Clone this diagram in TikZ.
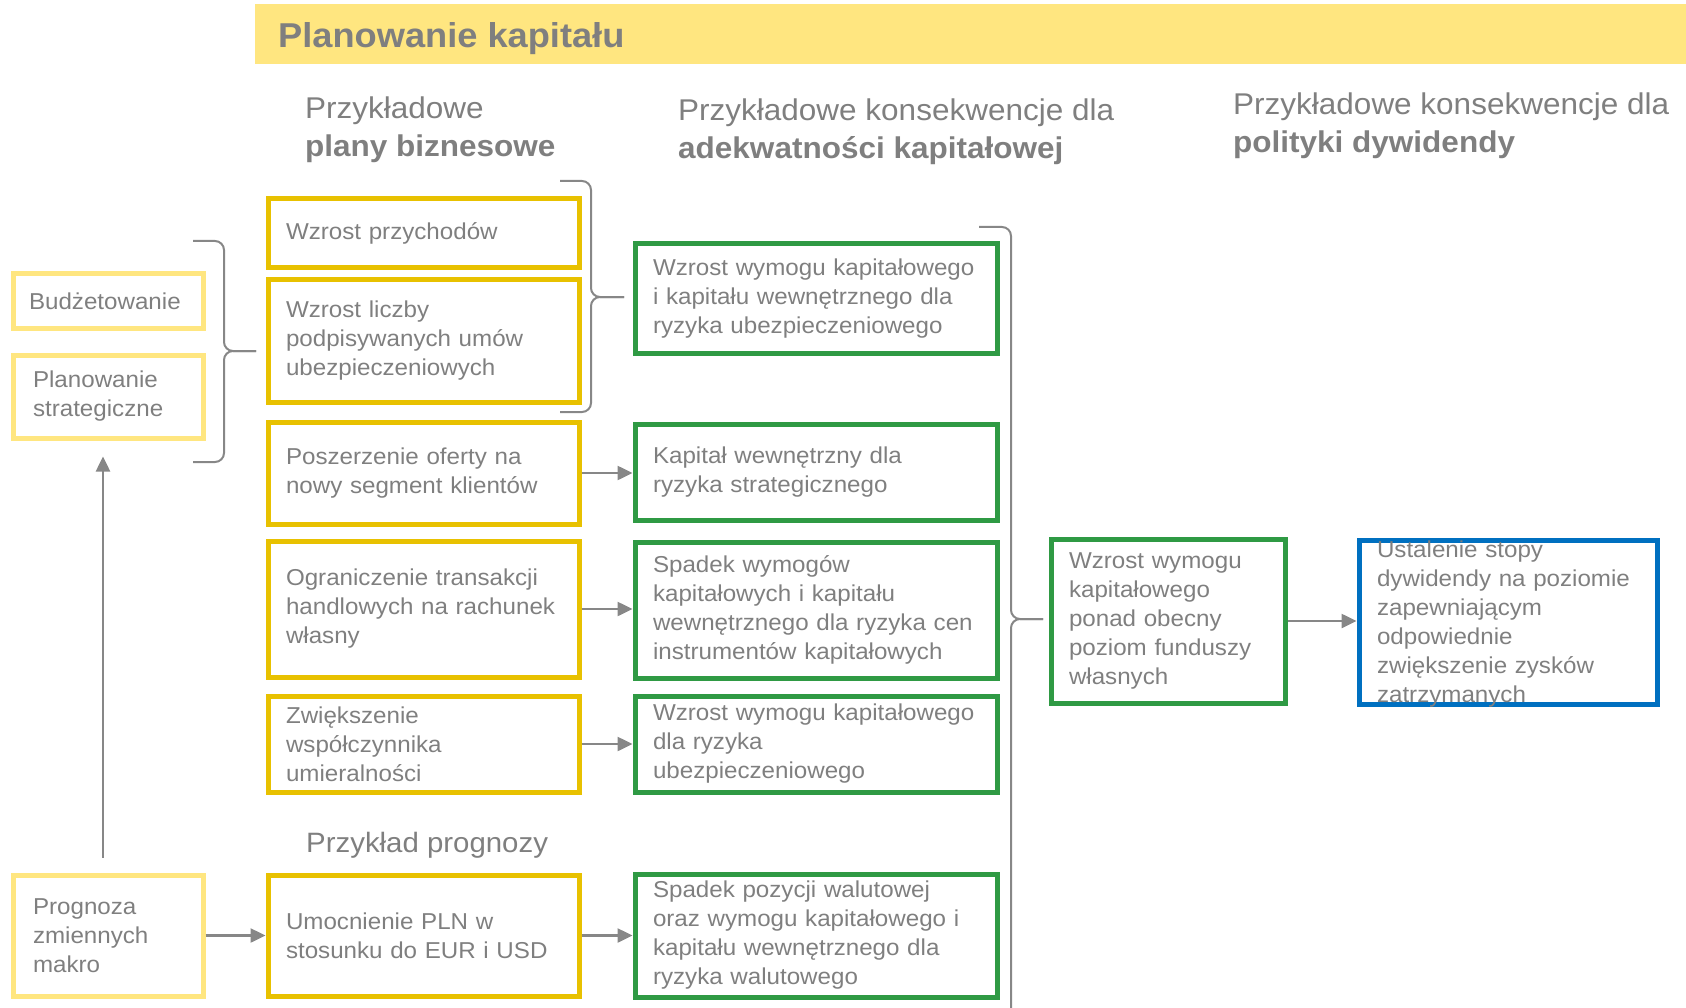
\documentclass[tikz,border=0pt]{standalone}
\usepackage{fontspec}
\setmainfont{Liberation Sans}[FakeStretch=1.05]
\usetikzlibrary{%
  arrows.meta,%
  calc%
}
\definecolor{szary}{HTML}{7F7F7F}
\definecolor{szarylinia}{HTML}{878787}
\definecolor{jasnozolty}{HTML}{FFE680}
\definecolor{zolty}{HTML}{E8C100}
\definecolor{zielony}{HTML}{2F9A44}
\definecolor{niebieski}{HTML}{0070C0}
\newcommand{\tekst}{\fontsize{23}{29}\selectfont}
\newcommand{\naglowek}{\fontsize{30}{38}\selectfont}
\tikzset{>={Triangle[length=15pt,width=14pt]}}
\tikzset{pole/.style = {line width=5pt, inner xsep=18pt, inner ysep=2pt,
        align=left, font=\tekst, text=szary},
    jasny/.style = {pole, draw=jasnozolty, inner xsep=16pt, text width=158pt},
    plan/.style = {pole, draw=zolty, text width=275pt},
    skutek/.style = {pole, draw=zielony, text width=326pt},
    glowny/.style = {pole, draw=zielony, text width=198pt},
    dywidenda/.style = {pole, draw=niebieski, minimum width=298pt},
    head/.style = {anchor=north west, inner sep=0pt, align=left,
        font=\naglowek, text=szary},
    strzalka/.style = {->, draw=szarylinia, line width=2.5pt},
    klamra/.style = {draw=szarylinia, line width=2pt, rounded corners=9pt}}

\begin{document}
\begin{tikzpicture}[x=1pt,y=-1pt]
    \useasboundingbox (0,0) rectangle (1686,1008);
    % naglowek
    \fill[jasnozolty] (255,4) rectangle (1686,64);
    \node[anchor=base west, inner sep=0pt, text=szary,
        font=\fontsize{34.5}{40}\selectfont\bfseries] (title) at (278,48) {Planowanie kapitału};
    \node[head] (h1) at (305,97) {Przykładowe\\\textbf{plany biznesowe}};
    \node[head] (h2) at (678,99) {Przykładowe konsekwencje dla\\\textbf{adekwatności kapitałowej}};
    \node[head] (h3) at (1233,93) {Przykładowe konsekwencje dla\\\textbf{polityki dywidendy}};
    % lewa kolumna
    \node[jasny, minimum height=54pt] (bud) at (108,301) {Budżetowanie};
    \node[jasny, inner xsep=20pt, text width=150pt, minimum height=83pt] (plan) at (108,396.5) {Planowanie\\strategiczne};
    \node[jasny, inner xsep=20pt, text width=150pt, minimum height=121pt] (prog) at (108,935.5) {Prognoza\\zmiennych\\makro};
    % plany biznesowe
    \node[plan, minimum height=69pt] (y1) at (423.5,233.5) {Wzrost przychodów};
    \node[plan, minimum height=122pt] (y2) at (423.5,341) {Wzrost liczby\\podpisywanych umów\\ubezpieczeniowych};
    \node[plan, minimum height=102pt] (y3) at (423.5,473) {Poszerzenie oferty na\\nowy segment klientów};
    \node[plan, minimum height=136pt] (y4) at (423.5,609) {Ograniczenie transakcji\\handlowych na rachunek\\własny};
    \node[plan, minimum height=96pt] (y5) at (423.5,744) {Zwiększenie\\współczynnika\\umieralności};
    \node[anchor=west, inner sep=0pt, text=szary,
        font=\fontsize{28}{33}\selectfont] (prz) at (306,845) {Przykład prognozy};
    \node[plan, minimum height=121pt] (y6) at (423.5,935.5) {Umocnienie PLN w\\stosunku do EUR i USD};
    % adekwatnosc kapitalowa
    \node[skutek, minimum height=109pt] (g1) at (816,298.5) {Wzrost wymogu kapitałowego\\i kapitału wewnętrznego dla\\ryzyka ubezpieczeniowego};
    \node[skutek, minimum height=96pt] (g2) at (816,472) {Kapitał wewnętrzny dla\\ryzyka strategicznego};
    \node[skutek, minimum height=136pt] (g3) at (816,610) {Spadek wymogów\\kapitałowych i kapitału\\wewnętrznego dla ryzyka cen\\instrumentów kapitałowych};
    \node[skutek, minimum height=96pt] (g4) at (816,744) {Wzrost wymogu kapitałowego\\dla ryzyka\\ubezpieczeniowego};
    \node[skutek, minimum height=123pt] (g5) at (816,935.5) {Spadek pozycji walutowej\\oraz wymogu kapitałowego i\\kapitału wewnętrznego dla\\ryzyka walutowego};
    % dywidenda
    \node[glowny, minimum height=164pt] (g6) at (1168,621) {Wzrost wymogu\\kapitałowego\\ponad obecny\\poziom funduszy\\własnych};
    \node[dywidenda, minimum height=164pt] (blue) at (1508,622) {};
    \node[align=left, font=\tekst, text=szary, text width=262pt,
        inner sep=0pt] (bluetxt) at ($(blue.center)+(0,2)$) {Ustalenie stopy\\dywidendy na poziomie\\zapewniającym\\odpowiednie\\zwiększenie zysków\\zatrzymanych};
    % klamry
    \draw[klamra] (193,241) -- (224,241) -- (224,351) -- (256,351);
    \draw[klamra] (193,462) -- (224,462) -- (224,351) -- (256,351);
    \draw[klamra] (560,181) -- (591,181) -- (591,297) -- (624,297);
    \draw[klamra] (560,412) -- (591,412) -- (591,297) -- (624,297);
    \draw[klamra] (979,227) -- (1011,227) -- (1011,619) -- (1043,619);
    \draw[klamra] (1011,1008) -- (1011,619) -- (1043,619);
    % strzalki
    \draw[strzalka, shorten <=15pt, shorten >=16pt] ($(prog.north)+(-5,0)$) -- ($(plan.south)+(-5,0)$);
    \draw[strzalka] (prog.east) -- (prog.east -| y6.west);
    \draw[strzalka] (y3.east) -- (y3.east -| g2.west);
    \draw[strzalka] (y4.east) -- (y4.east -| g3.west);
    \draw[strzalka] (y5.east) -- (y5.east -| g4.west);
    \draw[strzalka] (y6.east) -- (y6.east -| g5.west);
    \draw[strzalka] (g6.east) -- (g6.east -| blue.west);
\end{tikzpicture}
\end{document}
